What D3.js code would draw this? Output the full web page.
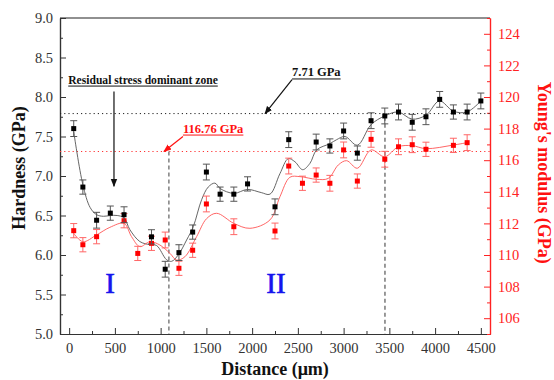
<!DOCTYPE html>
<html>
<head>
<meta charset="utf-8">
<script src="https://cdn.jsdelivr.net/npm/d3@7"></script>
<style>
  html, body { margin: 0; padding: 0; background: #fff; }
  svg { display: block; font-family: "Liberation Serif", "Times New Roman", serif; }
</style>
</head>
<body>
<div id="chart"></div>
<script>
// Hardness (black) measured points
const hardDist = [50, 150, 300, 450, 600, 900, 1050, 1200, 1350, 1500, 1650, 1800, 1950, 2250, 2400, 2700, 2850, 3000, 3150, 3300, 3450, 3600, 3750, 3900, 4050, 4200, 4350, 4500];
const hardness = [7.60, 6.86, 6.44, 6.53, 6.51, 6.23, 5.82, 6.03, 6.29, 7.05, 6.77, 6.77, 6.90, 6.61, 7.46, 7.43, 7.38, 7.57, 7.29, 7.70, 7.76, 7.81, 7.68, 7.75, 7.97, 7.81, 7.81, 7.95];
const hardErr = [0.1, 0.09, 0.1, 0.09, 0.1, 0.09, 0.1, 0.1, 0.09, 0.1, 0.09, 0.09, 0.09, 0.1, 0.1, 0.1, 0.09, 0.1, 0.09, 0.1, 0.1, 0.1, 0.1, 0.1, 0.1, 0.09, 0.1, 0.1];

// Young's modulus (red) measured points
const modDist = [50, 150, 300, 600, 750, 900, 1050, 1200, 1350, 1500, 1800, 2250, 2400, 2550, 2700, 2850, 3000, 3150, 3300, 3450, 3600, 3750, 3900, 4200, 4350];
const modulus = [111.54, 110.65, 111.16, 112.17, 110.1, 110.74, 110.95, 109.16, 110.3, 113.23, 111.79, 111.52, 115.63, 114.54, 115.06, 114.54, 116.65, 114.68, 117.32, 116.06, 116.85, 116.98, 116.69, 116.94, 117.11];
const modErr = [0.45, 0.45, 0.45, 0.45, 0.45, 0.45, 0.5, 0.45, 0.45, 0.5, 0.5, 0.5, 0.5, 0.45, 0.45, 0.5, 0.5, 0.45, 0.5, 0.5, 0.5, 0.5, 0.45, 0.45, 0.5];

// smoothed fit curves
const hardFitDist = [50, 150, 230, 300, 375, 450, 525, 600, 664, 773, 883, 956, 1065, 1120, 1192, 1284, 1357, 1448, 1520, 1593, 1652, 1800, 1950, 2100, 2195, 2304, 2395, 2468, 2552, 2632, 2705, 2851, 2924, 3015, 3150, 3300, 3449, 3598, 3748, 3901, 4047, 4200, 4349, 4500];
const hardFit = [7.56, 6.89, 6.6, 6.51, 6.49, 6.5, 6.5, 6.47, 6.32, 6.17, 6.13, 6.12, 5.94, 5.92, 6.0, 6.19, 6.36, 6.7, 6.86, 6.91, 6.84, 6.78, 6.83, 6.79, 6.77, 7.03, 7.22, 7.18, 7.08, 7.16, 7.33, 7.41, 7.46, 7.5, 7.39, 7.65, 7.76, 7.81, 7.72, 7.77, 7.95, 7.82, 7.81, 7.95];
const modFitDist = [50, 150, 300, 445, 600, 682, 773, 883, 992, 1101, 1175, 1265, 1393, 1502, 1612, 1801, 1976, 2195, 2304, 2413, 2522, 2705, 2833, 2942, 3033, 3150, 3300, 3449, 3598, 3748, 3901, 4200, 4349];
const modFit = [111.37, 110.84, 111.27, 111.75, 112.0, 111.16, 110.53, 110.84, 110.63, 110.11, 109.68, 109.89, 111.16, 112.3, 112.64, 112.0, 111.69, 112.22, 113.69, 114.92, 114.96, 114.79, 114.85, 115.7, 115.97, 115.49, 116.65, 116.22, 116.85, 116.92, 116.73, 116.96, 117.11];

// reference levels and zone borders
const hardRef = 7.79, hardRefLabel = '7.71 GPa';
const modRef = 116.55, modRefLabel = '116.76 GPa';
const zoneBorders = [1090, 3452];

const xTicks = d3.range(0, 4501, 500);
const xMinor = d3.range(250, 4600, 500);
const hTicks = d3.range(5, 9.01, 0.5);
const hMinor = d3.range(5.25, 9, 0.5);
const mTicks = d3.range(106, 125, 2);
const mMinor = d3.range(105, 126, 2);

const W = 554, H = 380;
const margin = { top: 18, right: 64, bottom: 46, left: 60 };
const iw = W - margin.left - margin.right;
const ih = H - margin.top - margin.bottom;

const svg = d3.select('#chart').append('svg').attr('width', W).attr('height', H);
const g = svg.append('g').attr('transform', `translate(${margin.left},${margin.top})`);

const x = d3.scaleLinear().domain([-100, 4600]).range([0, iw]);
const yH = d3.scaleLinear().domain([5, 9]).range([ih, 0]);
const yM = d3.scaleLinear().domain([105, 125]).range([ih, 0]);

// top frame
g.append('line').attr('x1', 0).attr('x2', iw).attr('y1', 0).attr('y2', 0)
  .attr('stroke', '#222').attr('stroke-width', 1.2);

// Axes
const styleAxis = (sel, color, txtColor) => {
  sel.select('.domain').attr('stroke', color).attr('stroke-width', 1.2);
  sel.selectAll('.tick line').attr('stroke', color).attr('stroke-width', 1);
  sel.selectAll('text').attr('fill', txtColor).attr('font-size', '14.5px')
    .attr('font-family', '"Liberation Serif", serif');
};

g.append('g').attr('transform', `translate(0,${ih})`)
  .call(d3.axisBottom(x).tickValues(xMinor).tickSizeInner(-3).tickSizeOuter(0).tickFormat(''))
  .call(s => styleAxis(s, '#333', '#333'));
g.append('g').attr('transform', `translate(0,${ih})`)
  .call(d3.axisBottom(x).tickValues(xTicks).tickSizeInner(-6).tickSizeOuter(0).tickPadding(9).tickFormat(d3.format('d')))
  .call(s => styleAxis(s, '#333', '#333'));

g.append('g')
  .call(d3.axisLeft(yH).tickValues(hMinor).tickSizeInner(-3).tickSizeOuter(0).tickFormat(''))
  .call(s => styleAxis(s, '#333', '#333'));
g.append('g')
  .call(d3.axisLeft(yH).tickValues(hTicks).tickSizeInner(-6).tickSizeOuter(0).tickPadding(7).tickFormat(d3.format('.1f')))
  .call(s => styleAxis(s, '#333', '#333'));

g.append('g').attr('transform', `translate(${iw},0)`)
  .call(d3.axisRight(yM).tickValues(mMinor).tickSizeInner(-3).tickSizeOuter(0).tickFormat(''))
  .call(s => styleAxis(s, '#f22', '#f22'));
g.append('g').attr('transform', `translate(${iw},0)`)
  .call(d3.axisRight(yM).tickValues(mTicks).tickSizeInner(-6).tickSizeOuter(0).tickPadding(8).tickFormat(d3.format('d')))
  .call(s => styleAxis(s, '#f22', '#f22'));

// Axis titles
svg.append('text')
  .attr('transform', `translate(25,${margin.top + yH(7.1)}) rotate(-90)`)
  .attr('text-anchor', 'middle').attr('font-weight', 'bold').attr('font-size', '18px')
  .attr('fill', '#111').text('Hardness (GPa)');

svg.append('text')
  .attr('transform', `translate(538,${margin.top + yM(115.2)}) rotate(90)`)
  .attr('text-anchor', 'middle').attr('font-weight', 'bold').attr('font-size', '18px')
  .attr('fill', '#f11').text("Young's modulus (GPa)");

svg.append('text')
  .attr('x', margin.left + x(2250)).attr('y', 375)
  .attr('text-anchor', 'middle').attr('font-weight', 'bold').attr('font-size', '18px')
  .attr('fill', '#111').text('Distance (\u03BCm)');

// Reference lines
g.append('line').attr('x1', 0).attr('x2', iw).attr('y1', yH(hardRef)).attr('y2', yH(hardRef))
  .attr('stroke', '#222').attr('stroke-width', 1).attr('stroke-dasharray', '1.2,3');
g.append('line').attr('x1', 0).attr('x2', iw).attr('y1', yM(modRef)).attr('y2', yM(modRef))
  .attr('stroke', '#f33').attr('stroke-width', 1).attr('stroke-dasharray', '1.2,3');

// Zone borders
g.append('line').attr('x1', x(zoneBorders[0])).attr('x2', x(zoneBorders[0]))
  .attr('y1', yM(modRef)).attr('y2', ih)
  .attr('stroke', '#888').attr('stroke-width', 1.6).attr('stroke-dasharray', '4,3');
g.append('line').attr('x1', x(zoneBorders[1])).attr('x2', x(zoneBorders[1]))
  .attr('y1', yH(7.75)).attr('y2', ih)
  .attr('stroke', '#333').attr('stroke-width', 1).attr('stroke-dasharray', '4,3');

// Fit curves
g.append('path')
  .datum(hardFitDist.map((d, i) => [d, hardFit[i]]))
  .attr('fill', 'none').attr('stroke', '#555').attr('stroke-width', 0.9)
  .attr('d', d3.line().x(d => x(d[0])).y(d => yH(d[1])).curve(d3.curveCatmullRom.alpha(0.5)));

g.append('path')
  .datum(modFitDist.map((d, i) => [d, modFit[i]]))
  .attr('fill', 'none').attr('stroke', '#f55').attr('stroke-width', 0.9)
  .attr('d', d3.line().x(d => x(d[0])).y(d => yM(d[1])).curve(d3.curveCatmullRom.alpha(0.5)));

// Error bars + markers
function drawSeries(dist, vals, errs, yScale, barColor, markColor) {
  const data = dist.map((d, i) => ({ d, v: vals[i], e: errs[i] }));
  const eg = g.append('g').attr('stroke', barColor).attr('stroke-width', 1);
  const cap = 3.5;
  data.forEach(p => {
    const cx = x(p.d), y0 = yScale(p.v - p.e), y1 = yScale(p.v + p.e);
    eg.append('line').attr('x1', cx).attr('x2', cx).attr('y1', y0).attr('y2', y1);
    eg.append('line').attr('x1', cx - cap).attr('x2', cx + cap).attr('y1', y0).attr('y2', y0);
    eg.append('line').attr('x1', cx - cap).attr('x2', cx + cap).attr('y1', y1).attr('y2', y1);
  });
  g.append('g').selectAll('rect').data(data).enter().append('rect')
    .attr('x', p => x(p.d) - 2.5).attr('y', p => yScale(p.v) - 2.5)
    .attr('width', 5).attr('height', 5).attr('fill', markColor);
}
drawSeries(modDist, modulus, modErr, yM, '#f66', '#f00');
drawSeries(hardDist, hardness, hardErr, yH, '#555', '#000');

// Arrow markers
const defs = svg.append('defs');
[['arrBlack', '#111'], ['arrRed', '#f11']].forEach(([id, c]) => {
  defs.append('marker').attr('id', id).attr('viewBox', '0 0 10 10')
    .attr('refX', 9).attr('refY', 5).attr('markerWidth', 8).attr('markerHeight', 8)
    .attr('markerUnits', 'userSpaceOnUse').attr('orient', 'auto')
    .append('path').attr('d', 'M0,1 L10,5 L0,9 z').attr('fill', c);
});

function underlinedText(tx, ty, txt, size, color) {
  const t = g.append('text').attr('x', tx).attr('y', ty)
    .attr('font-weight', 'bold').attr('font-size', size).attr('fill', color).text(txt);
  const len = t.node().getComputedTextLength();
  g.append('line').attr('x1', tx).attr('x2', tx + len).attr('y1', ty + 2.5).attr('y2', ty + 2.5)
    .attr('stroke', color).attr('stroke-width', 1);
}

// Residual stress annotation
underlinedText(x(-10), yH(8.17), 'Residual stress dominant zone', '11.6px', '#111');
g.append('line').attr('x1', x(490)).attr('x2', x(490)).attr('y1', yH(8.07)).attr('y2', yH(6.87))
  .attr('stroke', '#111').attr('stroke-width', 1.2).attr('marker-end', 'url(#arrBlack)');

// hardness reference label
underlinedText(x(2436), yH(8.26), hardRefLabel, '12.5px', '#111');
g.append('line').attr('x1', x(2436)).attr('y1', yH(8.22)).attr('x2', x(2141)).attr('y2', yH(hardRef))
  .attr('stroke', '#111').attr('stroke-width', 1.2).attr('marker-end', 'url(#arrBlack)');

// modulus reference label
underlinedText(x(1244), yM(117.75), modRefLabel, '12.5px', '#f11');
g.append('line').attr('x1', x(1244)).attr('y1', yM(117.5)).attr('x2', x(1036)).attr('y2', yM(modRef))
  .attr('stroke', '#f11').attr('stroke-width', 1.2).attr('marker-end', 'url(#arrRed)');

// Zone labels
g.append('text').attr('x', x(447)).attr('y', yH(5.515)).attr('text-anchor', 'middle')
  .attr('font-size', '29px').attr('fill', '#1515ee').attr('stroke', '#1515ee').attr('stroke-width', 0.6).text('I');
g.append('text').attr('x', x(2260)).attr('y', yH(5.515)).attr('text-anchor', 'middle')
  .attr('font-size', '29px').attr('fill', '#1515ee').attr('stroke', '#1515ee').attr('stroke-width', 0.6).text('II');
</script>
</body>
</html>
